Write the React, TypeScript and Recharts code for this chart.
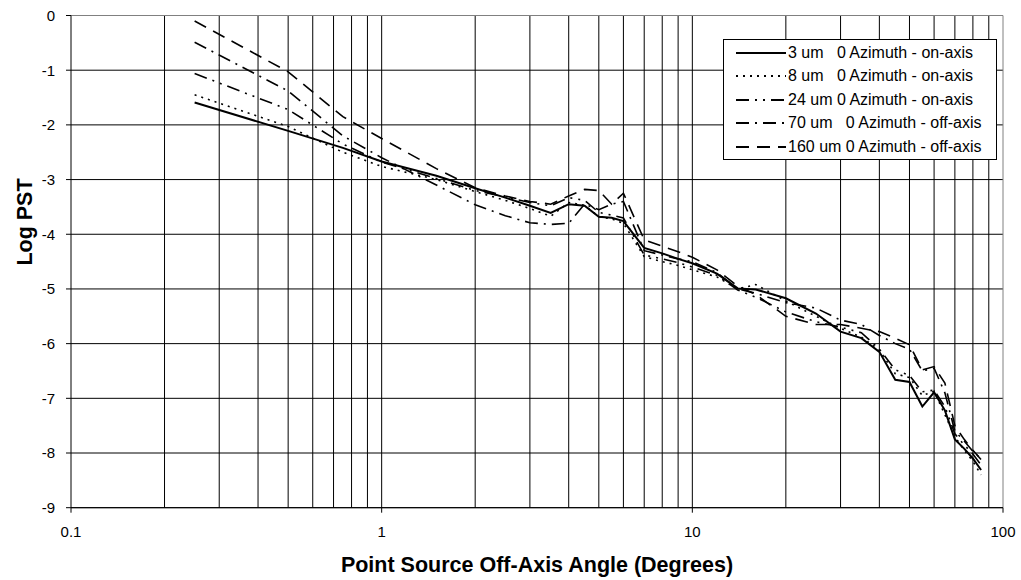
import React from 'react';
import { LineChart, Line, XAxis, YAxis, CartesianGrid, ReferenceLine, Legend } from 'recharts';

// Off-axis angle (degrees)
const angles = [0.25, 0.5, 0.75, 1, 1.5, 2, 2.5, 3, 3.5, 4, 4.5, 5, 5.5, 6, 7, 8, 9, 10, 12, 14, 16, 20, 25, 30, 35, 40, 45, 50, 55, 60, 65, 70, 75, 80, 85];

// Log PST per series
const pst3 = [-1.59, -2.11, -2.42, -2.67, -2.93, -3.16, -3.33, -3.48, -3.61, -3.45, -3.48, -3.68, -3.70, -3.76, -4.25, -4.35, -4.45, -4.53, -4.72, -4.99, -5.01, -5.17, -5.45, -5.78, -5.90, -6.15, -6.66, -6.70, -7.15, -6.89, -7.22, -7.75, -7.92, -8.10, -8.31];
const pst8 = [-1.45, -2.03, -2.50, -2.76, -3.00, -3.22, -3.38, -3.53, -3.67, -3.42, -3.47, -3.68, -3.72, -3.80, -4.41, -4.50, -4.57, -4.65, -4.78, -5.00, -4.92, -5.22, -5.50, -5.72, -5.88, -6.12, -6.55, -6.62, -6.95, -6.87, -7.30, -7.70, -7.95, -8.15, -8.40];
const pst24 = [-1.06, -1.72, -2.35, -2.68, -2.98, -3.20, -3.32, -3.42, -3.48, -3.33, -3.38, -3.60, -3.65, -3.70, -4.38, -4.45, -4.52, -4.60, -4.75, -5.02, -5.15, -5.42, -5.60, -5.70, -5.80, -6.10, -6.48, -6.58, -6.88, -6.85, -7.15, -7.65, -7.85, -8.02, -8.22];
const pst70 = [-0.49, -1.38, -2.20, -2.60, -3.10, -3.46, -3.66, -3.79, -3.82, -3.80, -3.45, -3.55, -3.45, -3.40, -4.30, -4.38, -4.45, -4.50, -4.70, -5.00, -5.08, -5.25, -5.35, -5.57, -5.65, -5.85, -6.00, -6.10, -6.50, -6.45, -6.90, -7.60, -7.78, -7.97, -8.10];
const pst160 = [-0.10, -1.03, -1.85, -2.25, -2.80, -3.15, -3.30, -3.40, -3.45, -3.30, -3.18, -3.20, -3.45, -3.25, -4.10, -4.22, -4.32, -4.42, -4.65, -4.95, -5.10, -5.50, -5.65, -5.65, -5.72, -5.78, -5.90, -6.02, -6.48, -6.42, -6.72, -7.50, -7.75, -7.95, -8.12];

const seriesLabels = [
  '3 um   0 Azimuth - on-axis',
  '8 um   0 Azimuth - on-axis',
  '24 um 0 Azimuth - on-axis',
  '70 um   0 Azimuth - off-axis',
  '160 um 0 Azimuth - off-axis',
];

const xTicks = [0.1, 1, 10, 100];
const yTicks = [-9, -8, -7, -6, -5, -4, -3, -2, -1, 0];
const xGridValues = [0.2, 0.3, 0.4, 0.5, 0.6, 0.7, 0.8, 0.9, 1, 2, 3, 4, 5, 6, 7, 8, 9, 10, 20, 30, 40, 50, 60, 70, 80, 90];

const seriesKeys = ['s3', 's8', 's24', 's70', 's160'];
const seriesValues = [pst3, pst8, pst24, pst70, pst160];
const seriesDash = [undefined, '2 5', '13 6 2 6 2 6', '13 6 2 6', '13 8'];
const seriesWidth = [2, 1.6, 1.6, 1.6, 1.6];

const data = angles.map((a, i) => {
  const row: any = { x: a };
  seriesKeys.forEach((k, j) => {
    row[k] = seriesValues[j][i];
  });
  return row;
});

const FONT = '"Liberation Sans", Arial, sans-serif';

const LegendBox = () => (
  <div
    style={{
      position: 'relative',
      width: 274,
      height: 121,
      boxSizing: 'border-box',
      border: '1px solid #000',
      background: '#fff',
    }}
  >
    {seriesLabels.map((label, i) => (
      <div
        key={label}
        style={{
          position: 'absolute',
          left: 0,
          top: 3 + i * 23.4,
          height: 20,
          display: 'flex',
          alignItems: 'center',
        }}
      >
        <svg width={63} height={20} style={{ display: 'block' }}>
          <line x1={12} x2={62} y1={10} y2={10} stroke="#000" strokeWidth={2} strokeDasharray={seriesDash[i]} />
        </svg>
        <span style={{ font: `16px ${FONT}`, whiteSpace: 'pre', color: '#000', marginLeft: 1 }}>{label}</span>
      </div>
    ))}
  </div>
);

const XLabel = (props: any) => {
  const vb = props.viewBox || { x: 71, y: 508, width: 932 };
  return (
    <text
      x={vb.x + vb.width / 2}
      y={vb.y + 64}
      textAnchor="middle"
      fontFamily={FONT}
      fontWeight="bold"
      fontSize={21.5}
      fill="#000"
    >
      Point Source Off-Axis Angle (Degrees)
    </text>
  );
};

const YLabel = (props: any) => {
  const vb = props.viewBox || { x: 11, y: 15.5, width: 60, height: 492 };
  const cx = vb.x + 14;
  const cy = vb.y + 206.5;
  return (
    <text
      x={cx}
      y={cy}
      transform={`rotate(-90, ${cx}, ${cy})`}
      textAnchor="middle"
      dominantBaseline="central"
      fontFamily={FONT}
      fontWeight="bold"
      fontSize={21.5}
      fill="#000"
    >
      Log PST
    </text>
  );
};

export default function App() {
  return (
    <div style={{ position: 'absolute', left: 0, top: 0, width: 1021, height: 580, background: '#fff' }}>
      <LineChart
        width={1021}
        height={580}
        data={data}
        margin={{ top: 15.5, right: 18, left: 11, bottom: 42.3 }}
        style={{ fontFamily: FONT }}
      >
        <CartesianGrid vertical={false} stroke="#000" strokeWidth={1} />
        {xGridValues.map((v) => (
          <ReferenceLine key={v} x={v} stroke="#000" strokeWidth={1} />
        ))}
        <ReferenceLine x={100} stroke="#808080" strokeWidth={1} />
        <ReferenceLine y={0} stroke="#808080" strokeWidth={1} />
        <XAxis
          dataKey="x"
          type="number"
          scale="log"
          domain={[0.1, 100]}
          ticks={xTicks}
          tickFormatter={(v: number) => String(v)}
          allowDataOverflow
          height={30}
          stroke="#000"
          tickSize={5}
          tickMargin={14}
          tick={{ fill: '#000', fontSize: 15, fontFamily: FONT }}
          label={<XLabel />}
        />
        <YAxis
          type="number"
          domain={[-9, 0]}
          ticks={yTicks}
          width={60}
          stroke="#000"
          tickSize={5}
          tickMargin={11}
          tick={{ fill: '#000', fontSize: 15, fontFamily: FONT }}
          label={<YLabel />}
        />
        <Legend
          layout="vertical"
          align="center"
          verticalAlign="middle"
          content={() => <LegendBox />}
          wrapperStyle={{ position: 'absolute', left: 723, top: 39, width: 274, height: 121 }}
        />
        {seriesKeys.map((k, i) => (
          <Line
            key={k}
            dataKey={k}
            name={seriesLabels[i]}
            type="linear"
            stroke="#000"
            strokeWidth={seriesWidth[i]}
            strokeDasharray={seriesDash[i]}
            dot={false}
            activeDot={false}
            isAnimationActive={false}
          />
        ))}
      </LineChart>
    </div>
  );
}
